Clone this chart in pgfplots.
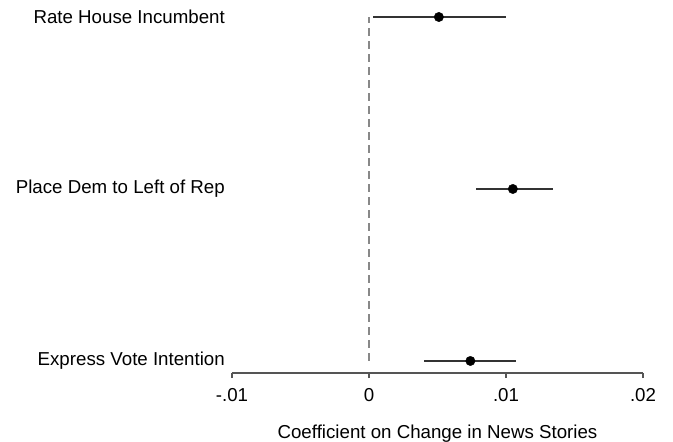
\documentclass[border=0pt]{standalone}
\usepackage{fontspec}
\setmainfont{Liberation Sans}
\usepackage{pgfplots}
\pgfplotsset{compat=1.18}
\definecolor{axgray}{HTML}{555555}
\definecolor{bargray}{HTML}{333333}
\definecolor{dashgray}{HTML}{888888}
\begin{document}
\fontsize{18.7bp}{22bp}\selectfont
\begin{tikzpicture}
\begin{axis}[
  scale only axis, width=411bp, height=356bp,
  xmin=-0.01, xmax=0.02, ymin=0.93, ymax=3,
  scaled ticks=false,
  axis lines*=left,
  axis line style={-, axgray, line width=1.1bp},
  y axis line style={draw=none},
  xtick={-0.01,0,0.01,0.02},
  xticklabels={-.01,0,.01,.02},
  ytick={1,2,3},
  yticklabels={Express Vote Intention, Place Dem to Left of Rep, Rate House Incumbent},
  ytick style={draw=none},
  xtick style={axgray, line width=1.1bp},
  tick align=outside,
  major tick length=5bp,
  yticklabel style={anchor=east, font=\fontsize{18.7bp}{22bp}\selectfont, inner sep=0pt, xshift=-2bp},
  xticklabel style={font=\fontsize{18.7bp}{22bp}\selectfont, yshift=-4bp},
  xlabel={Coefficient on Change in News Stories},
  xlabel style={font=\fontsize{18.7bp}{22bp}\selectfont, yshift=-11bp},
  clip=false,
]
\addplot[dashgray, line width=1.1bp, dash pattern=on 8bp off 5bp] coordinates {(0,1) (0,3)};
\addplot[only marks, mark=*, mark size=4.7bp, mark options={fill=black, draw=black},
  error bars/.cd, x dir=both, x explicit, error mark=none,
  error bar style={bargray, line width=1.1bp}]
  table[x=x, y=y, x error plus=ep, x error minus=em] {
  x       y  ep      em
  0.0051  3  0.0049  0.0048
  0.0105  2  0.0029  0.0027
  0.0074  1  0.0033  0.0034
};
\end{axis}
\pgfresetboundingbox
\useasboundingbox (current axis.south west) ++(-232bp,-69bp) rectangle ++(673bp,442bp);
\end{tikzpicture}
\end{document}
